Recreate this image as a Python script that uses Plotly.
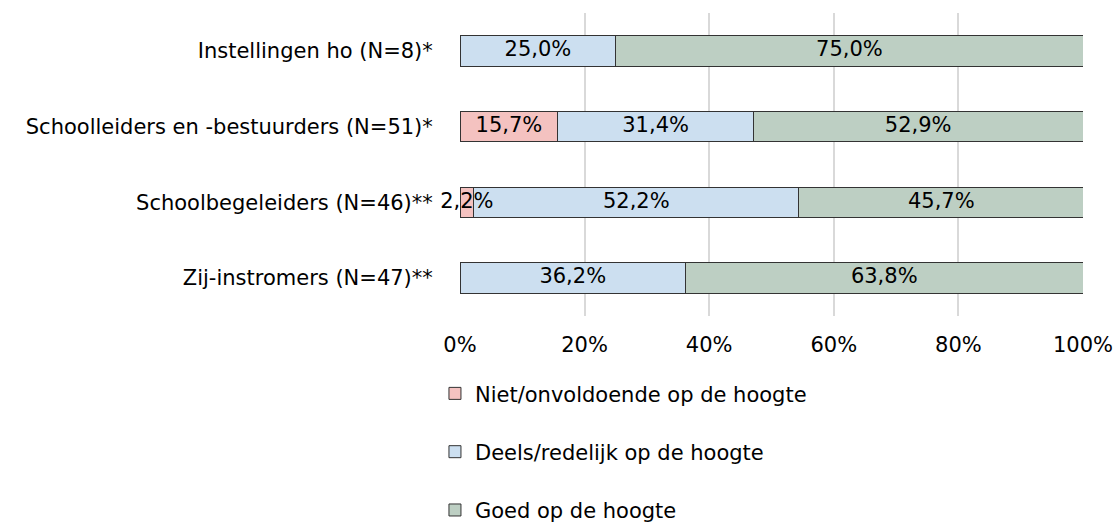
import plotly.graph_objects as go

categories = [
    "Instellingen ho (N=8)*",
    "Schoolleiders en -bestuurders (N=51)*",
    "Schoolbegeleiders (N=46)**",
    "Zij-instromers (N=47)**",
]
series_names = [
    "Niet/onvoldoende op de hoogte",
    "Deels/redelijk op de hoogte",
    "Goed op de hoogte",
]
niet = [0.0, 15.7, 2.2, 0.0]
deels = [25.0, 31.4, 52.2, 36.2]
goed = [75.0, 52.9, 45.7, 63.8]
colors = ["#F4C2C0", "#CCDFF0", "#BDCFC3"]
tick_vals = [0, 20, 40, 60, 80, 100]
tick_text = ["0%", "20%", "40%", "60%", "80%", "100%"]

FONT = "DejaVu Sans"
FS = 21

def fmt(v):
    return ("%.1f%%" % v).replace(".", ",") if v else ""

series = [niet, deels, goed]

fig = go.Figure()
for i, vals in enumerate(series):
    fig.add_trace(go.Bar(
        y=categories,
        x=[v if v else None for v in vals],
        name=series_names[i],
        orientation="h",
        marker=dict(color=colors[i], line=dict(color="#333333", width=1)),
        textposition="none",
        legendgroup=f"g{i}",
        hoverinfo="skip",
    ))

# data labels at the middle of each stacked segment, drawn on top of all bars
lab_x, lab_y, lab_t = [], [], []
run = [0.0] * len(categories)
for vals in series:
    for j, v in enumerate(vals):
        lab_x.append(run[j] + v / 2)
        lab_y.append(categories[j])
        lab_t.append(fmt(v))
    run = [r + v for r, v in zip(run, vals)]
# keep labels of segments overflowing the axis end centred on the visible part
lab_x = [min(x, 100 - (100 - x)) for x in lab_x]

fig.add_trace(go.Scatter(
    y=lab_y,
    x=lab_x,
    mode="text",
    text=lab_t,
    textposition="middle center",
    textfont=dict(family=FONT, size=FS, color="#000000"),
    showlegend=False,
    cliponaxis=False,
    hoverinfo="skip",
))

fig.update_layout(
    barmode="stack",
    bargap=0.6,
    width=1117,
    height=522,
    margin=dict(l=460, r=34, t=13, b=206, autoexpand=False),
    plot_bgcolor="white",
    paper_bgcolor="white",
    font=dict(family=FONT, size=FS, color="#000000"),
    showlegend=True,
    legend=dict(
        xref="container", yref="container",
        x=0.3894, xanchor="left",
        y=0.285, yanchor="top",
        traceorder="grouped",
        tracegroupgap=28,
        font=dict(family=FONT, size=FS, color="#000000"),
        itemwidth=30,
    ),
    xaxis=dict(
        range=[0, 100],
        tickvals=tick_vals,
        ticktext=tick_text,
        showgrid=True,
        gridcolor="#D9D9D9",
        gridwidth=2,
        zeroline=False,
        showline=False,
        ticklabelstandoff=14,
        tickfont=dict(family=FONT, size=FS),
        fixedrange=True,
    ),
    yaxis=dict(
        autorange="reversed",
        showgrid=False,
        zeroline=False,
        showline=False,
        ticks="outside",
        ticklen=0,
        ticklabelstandoff=22,
        tickfont=dict(family=FONT, size=FS),
        fixedrange=True,
    ),
)

fig.write_html(
    "out.html",
    config={"displayModeBar": False},
    post_script="document.body.style.margin='0';document.body.style.overflow='hidden';",
)
